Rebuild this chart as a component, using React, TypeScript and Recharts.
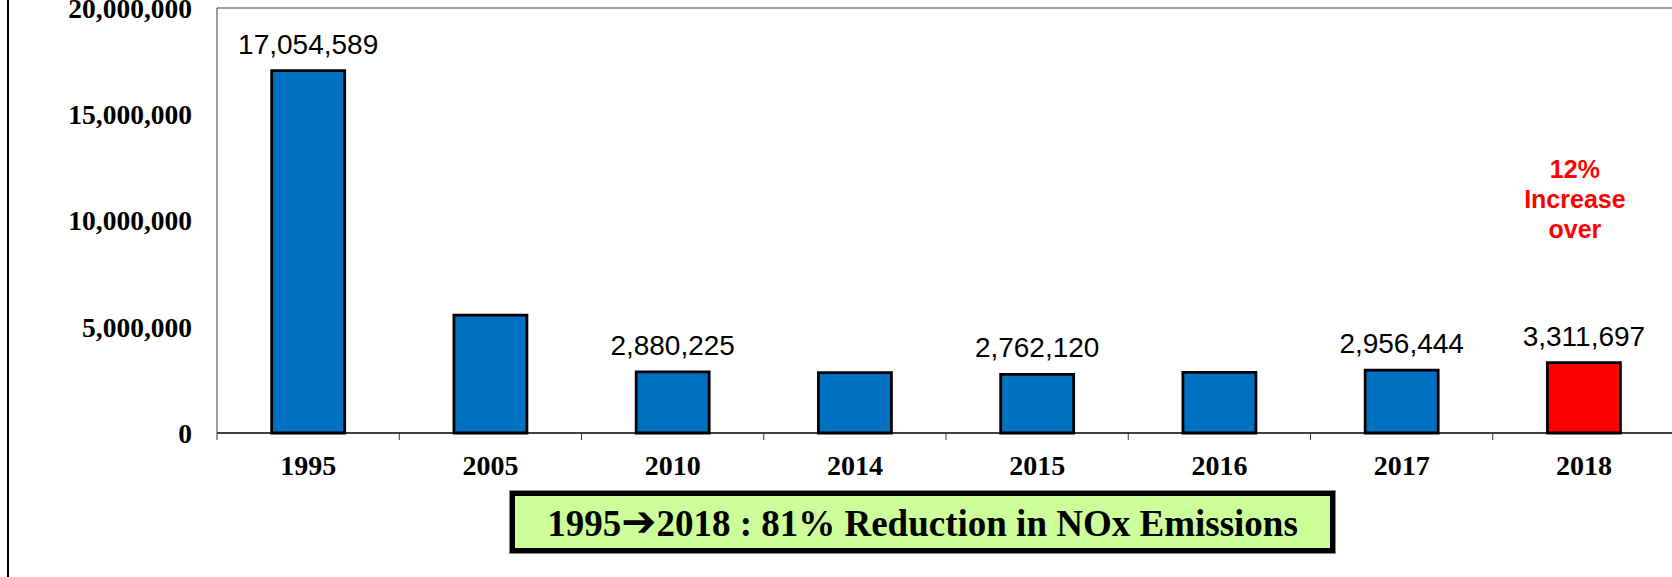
import * as React from 'react';
import {
  Bar,
  BarChart,
  Cell,
  LabelList,
  ReferenceDot,
  ReferenceLine,
  XAxis,
  YAxis,
} from 'recharts';

// values
const years = ['1995', '2005', '2010', '2014', '2015', '2016', '2017', '2018'];
const emissions = [17054589, 5550000, 2880225, 2840000, 2762120, 2850000, 2956444, 3311697];
const valueLabels = ['17,054,589', '', '2,880,225', '', '2,762,120', '', '2,956,444', '3,311,697'];
const yTicks = [0, 5000000, 10000000, 15000000, 20000000];
const highlightYear = '2018';
const noteLines = ['12%', 'Increase', 'over'];
const noteAnchor = 10600000;
const summaryFrom = '1995';
const summaryArrow = '\u2794';
const summaryRest = '2018 : 81% Reduction in NOx Emissions';

const data = years.map((year, i) => ({ year, value: emissions[i], label: valueLabels[i] }));

const CHART_W = 1675;
const CHART_H = 577;
const Y_W = 217;
const X_H = 144;
const BAND = (CHART_W - Y_W) / years.length;

const serif = '"Liberation Serif", "Times New Roman", serif';
const sans = '"Liberation Sans", Arial, sans-serif';

function YearTick({ x, y, payload }: any) {
  const edge = x - BAND / 2;
  return (
    <g>
      <line x1={edge} x2={edge} y1={y} y2={y + 7} stroke="#333" strokeWidth={1} />
      <text
        x={x}
        y={y + 42}
        textAnchor="middle"
        fontFamily={serif}
        fontWeight="bold"
        fontSize={28}
        fill="#000"
      >
        {payload.value}
      </text>
    </g>
  );
}

function NoteShape({ cx, cy }: any) {
  return (
    <text
      textAnchor="middle"
      fontFamily={sans}
      fontWeight="bold"
      fontSize={25}
      fill="#FF0000"
    >
      {noteLines.map((line, i) => (
        <tspan key={line} x={cx - 9} y={cy + (i - 1) * 30}>
          {line}
        </tspan>
      ))}
    </text>
  );
}

export default function App() {
  return (
    <div
      style={{
        position: 'absolute',
        left: 0,
        top: 0,
        width: 1672,
        height: 577,
        overflow: 'hidden',
        background: '#fff',
      }}
    >
      <div
        style={{
          position: 'absolute',
          left: 7,
          top: 0,
          width: 2,
          height: 577,
          background: '#000',
        }}
      />
      <BarChart
        width={CHART_W}
        height={CHART_H}
        data={data}
        margin={{ top: 8, right: 0, bottom: 0, left: 0 }}
        barCategoryGap="30%"
      >
        <XAxis
          dataKey="year"
          height={X_H}
          axisLine={{ stroke: '#000', strokeWidth: 1.5 }}
          tickLine={false}
          tickSize={0}
          tickMargin={0}
          interval={0}
          tick={<YearTick />}
        />
        <YAxis
          width={Y_W}
          domain={[0, 20000000]}
          ticks={yTicks}
          interval={0}
          axisLine={{ stroke: '#404040', strokeWidth: 1 }}
          tickLine={false}
          tickSize={0}
          tickMargin={25}
          tickFormatter={(v: number) => v.toLocaleString('en-US')}
          tick={{ fontFamily: serif, fontWeight: 'bold', fontSize: 27.5, fill: '#000' }}
        />
        <ReferenceLine y={20000000} stroke="#808080" strokeWidth={1.5} />
        <Bar dataKey="value" stroke="#000" strokeWidth={2.8} isAnimationActive={false}>
          {data.map((d) => (
            <Cell key={d.year} fill={d.year === highlightYear ? '#FF0000' : '#0070C0'} />
          ))}
          <LabelList
            dataKey="label"
            position="top"
            offset={17}
            style={{ fontFamily: sans, fontSize: 28, fill: '#000' }}
          />
        </Bar>
        <ReferenceDot
          x={highlightYear}
          y={noteAnchor}
          r={0}
          shape={(p: any) => <NoteShape {...p} />}
        />
      </BarChart>
      <div
        style={{
          position: 'absolute',
          left: 510,
          top: 491,
          width: 825,
          height: 62,
          boxSizing: 'border-box',
          background: '#CCFF99',
          border: '5px solid #000',
          boxShadow: '0 0 0 1px #888',
          display: 'flex',
          alignItems: 'center',
          justifyContent: 'center',
          paddingTop: 3,
          fontFamily: serif,
          fontWeight: 'bold',
          fontSize: 37,
          lineHeight: 1,
          color: '#000',
          whiteSpace: 'nowrap',
        }}
      >
        {summaryFrom}
        <span
          style={{
            fontFamily: '"DejaVu Sans", sans-serif',
            fontSize: 42,
            lineHeight: 0.8,
            position: 'relative',
            top: -2,
          }}
        >
          {summaryArrow}
        </span>
        {summaryRest}
      </div>
    </div>
  );
}
